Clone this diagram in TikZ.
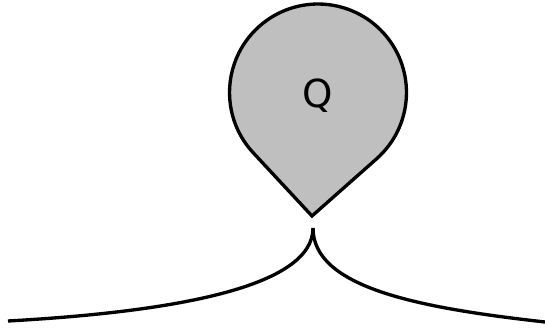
\documentclass[tikz,border=0pt]{standalone}
\usepackage{fontspec}
\setmainfont{DejaVu Sans}
\usetikzlibrary{calc}

\begin{document}
\begin{tikzpicture}[x=0.02cm, y=0.02cm, line width=1.9pt,
  label/.style={font=\fontsize{22}{26}\selectfont, inner sep=0pt},
  drop/.style={draw, fill=black!25, line join=miter}]

\useasboundingbox (0,0) rectangle (545,328);

\coordinate (center) at (318,235.5);
\coordinate (tip) at (312,112);
\coordinate (cusp) at (313,100);
\coordinate (farleft) at (8,7);
\coordinate (farright) at (545,6);

\draw[drop] (tip) -- ($(center)+(-48.5:1.77cm)$) arc[start angle=-48.5, end angle=222.9, radius=1.77cm] -- cycle;
\node[label] (q) at (318,232) {Q};

\draw (cusp) .. controls (313,40) and (170,16) .. (farleft);
\draw (cusp) .. controls (313,40) and (420,20) .. (farright);

\end{tikzpicture}
\end{document}
